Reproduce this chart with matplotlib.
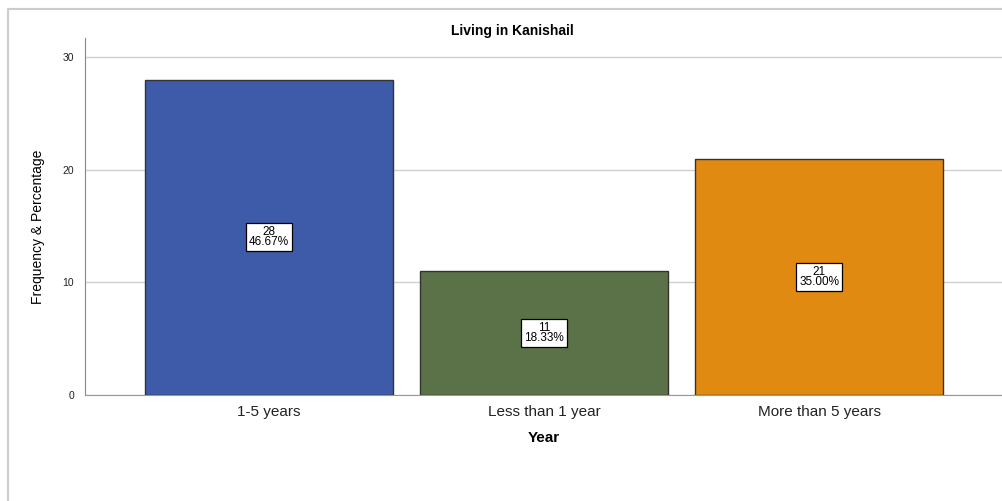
import matplotlib
matplotlib.use("Agg")
import matplotlib.pyplot as plt
from matplotlib.lines import Line2D

categories = ["1-5 years", "Less than 1 year", "More than 5 years"]
counts = [28, 11, 21]
percents = ["46.67%", "18.33%", "35.00%"]
colors = ["#3E5BA9", "#5B7148", "#E08A12"]
yticks = [0, 10, 20, 30]

plt.rcParams['font.family'] = ['Liberation Sans', 'DejaVu Sans']

fig = plt.figure(figsize=(10.03, 5.01), dpi=100)
ax = fig.add_axes([85/1003, 1-395/501, 1-85/1003, (395-38)/501])

x = list(range(len(categories)))
ax.bar(x, counts, width=0.9, color=colors, edgecolor="#333333", linewidth=1.0, zorder=3)
for xi, c, p in zip(x, counts, percents):
    ax.text(xi, c/2, f"{c}\n{p}", ha="center", va="center", fontsize=8.5,
            linespacing=0.8, zorder=5,
            bbox=dict(boxstyle="square,pad=0.25", facecolor="white", edgecolor="black", linewidth=0.9))

ax.set_xlim(-0.668, 2.668)
ax.set_ylim(0, 31.7)
ax.set_yticks(yticks)
ax.set_yticklabels([str(t) for t in yticks], fontsize=7.5, color="#222222")
ax.set_xticks(x)
ax.set_xticklabels(categories, fontsize=11, color="#222222")
ax.tick_params(axis="y", length=0, pad=8)
ax.tick_params(axis="x", length=0, pad=7)
ax.yaxis.grid(True, color="#d0d0d0", linewidth=1.0, zorder=0)
ax.set_axisbelow(True)
for s in ["top", "right"]:
    ax.spines[s].set_visible(False)
ax.spines["left"].set_color("#888888")
ax.spines["bottom"].set_color("#999999")

ax.set_xlabel("Year", fontsize=11, fontweight="bold", labelpad=9)
ax.set_ylabel("Frequency & Percentage", fontsize=10, va="center")
ax.yaxis.set_label_coords(-0.051, 0.47)
ax.set_title("Living in Kanishail", fontsize=10, fontweight="bold", pad=1, x=(512-85)/(1003-85))

fig.add_artist(Line2D([8/1003, 8/1003, 1.0], [0, 1-9/501, 1-9/501],
                      transform=fig.transFigure, color="#cccccc", linewidth=1.5))

fig.savefig("out.png", dpi=100)
